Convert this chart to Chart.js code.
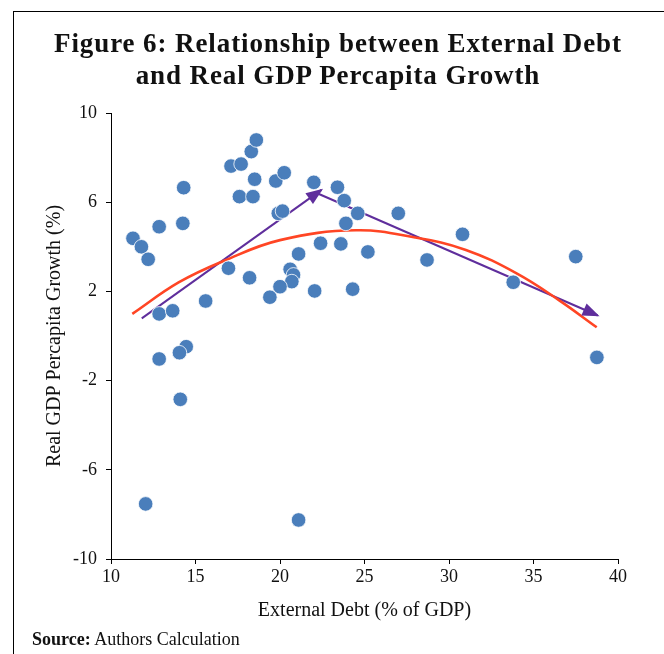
<!DOCTYPE html>
<html>
<head>
<meta charset="utf-8">
<script src="https://cdn.jsdelivr.net/npm/chart.js@4"></script>
<style>
  body { margin: 0; background: #fff; }
  #wrap { position: relative; width: 664px; height: 654px; overflow: hidden; }
  #frame { position: absolute; left: 13px; top: 11px; right: -5px; bottom: -5px;
           border-left: 1px solid #000; border-top: 1px solid #000; }
  #title { position: absolute; left: 12px; width: 652px; top: 27px; text-align: center;
           font: bold 27px "Liberation Serif", serif; line-height: 32px; color: #111;
           letter-spacing: 0.9px; }
  #source { position: absolute; left: 32px; top: 629px; font: 18px "Liberation Serif", serif;
            color: #111; }
  canvas { position: absolute; left: 0; top: 0; }
</style>
</head>
<body>
<div id="wrap">
  <div id="frame"></div>
  <canvas id="chart" width="664" height="654"></canvas>
  <div id="title">Figure 6: Relationship between External Debt<br>and Real GDP Percapita Growth</div>
  <div id="source"><b>Source:</b> Authors Calculation</div>
</div>
<script>
  // scatter: external debt (% of GDP) vs real GDP per capita growth (%)
  const debt = [11.3, 11.8, 12.2, 12.85, 14.3, 14.25, 17.1, 17.7, 18.3, 18.6,
    18.5, 17.6, 18.4, 19.75, 20.25, 19.9, 20.15, 22.0, 23.4, 23.8,
    23.9, 24.6, 22.4, 23.6, 21.1, 20.6, 20.8, 20.7, 20.0, 19.4,
    18.2, 16.95, 15.6, 22.05, 24.3, 25.2, 27.0, 28.7, 30.8, 33.8,
    37.5, 38.75, 12.85, 13.65, 14.45, 14.05, 12.85, 14.1, 12.05, 21.1];
  const growth = [4.38, 4.0, 3.44, 4.9, 6.65, 5.05, 7.62, 7.71, 8.27, 8.79,
    7.03, 6.25, 6.25, 6.95, 7.32, 5.5, 5.6, 6.89, 6.67, 6.07,
    5.05, 5.5, 4.16, 4.13, 3.68, 2.99, 2.74, 2.44, 2.21, 1.74,
    2.61, 3.04, 1.57, 2.02, 2.1, 3.77, 5.5, 3.41, 4.56, 2.41,
    3.56, -0.96, 0.99, 1.13, -0.48, -0.75, -1.03, -2.84, -7.53, -8.25];

  // fitted curve
  const fitX = [11.26, 14, 16.65, 20, 24.5, 28, 31, 34, 36.5, 38.74];
  const fitY = [0.99, 2.4, 3.36, 4.3, 4.74, 4.42, 3.86, 2.81, 1.61, 0.39];

  // the two arrows
  const arrowUpX = [11.82, 22.45];
  const arrowUpY = [0.79, 6.55];
  const arrowDownX = [22.2, 38.8];
  const arrowDownY = [6.4, 0.92];

  const xTicks = [10, 15, 20, 25, 30, 35, 40];
  const yTicks = [-10, -6, -2, 2, 6, 10];

  const pts = (xs, ys) => xs.map((x, i) => ({ x: x, y: ys[i] }));

  const arrowHeads = {
    id: "arrowHeads",
    afterDatasetsDraw(chart) {
      const ctx = chart.ctx;
      chart.data.datasets.forEach((ds, i) => {
        if (!ds.arrow) return;
        const el = chart.getDatasetMeta(i).data;
        const a = el[el.length - 2], b = el[el.length - 1];
        const ang = Math.atan2(b.y - a.y, b.x - a.x);
        const len = 15, half = 6.5;
        ctx.save();
        ctx.translate(b.x, b.y);
        ctx.rotate(ang);
        ctx.beginPath();
        ctx.moveTo(2, 0);
        ctx.lineTo(-len, -half);
        ctx.lineTo(-len, half);
        ctx.closePath();
        ctx.fillStyle = ds.borderColor;
        ctx.fill();
        ctx.restore();
      });
    }
  };

  const serif = "'Liberation Serif', serif";

  new Chart(document.getElementById("chart"), {
    type: "scatter",
    data: {
      datasets: [
        {
          data: pts(debt, growth),
          backgroundColor: "#4a7ebb",
          borderColor: "#ffffff",
          borderWidth: 0.8,
          pointRadius: 7.3,
          pointHoverRadius: 7.3
        },
        {
          type: "line",
          data: pts(fitX, fitY),
          borderColor: "#ff4524",
          borderWidth: 2.6,
          pointRadius: 0,
          tension: 0.4,
          fill: false
        },
        {
          type: "line",
          data: pts(arrowUpX, arrowUpY),
          borderColor: "#5f2e9c",
          borderWidth: 2,
          pointRadius: 0,
          arrow: true
        },
        {
          type: "line",
          data: pts(arrowDownX, arrowDownY),
          borderColor: "#5f2e9c",
          borderWidth: 2,
          pointRadius: 0,
          arrow: true
        }
      ]
    },
    plugins: [arrowHeads],
    options: {
      responsive: false,
      animation: false,
      layout: { padding: { top: 113, left: 43, right: 46, bottom: 20 } },
      plugins: {
        legend: { display: false },
        tooltip: { enabled: false }
      },
      scales: {
        x: {
          type: "linear",
          min: 10,
          max: 40,
          afterFit: s => { s.height = 75; },
          afterBuildTicks: s => { s.ticks = xTicks.map(v => ({ value: v })); },
          ticks: { color: "#111", padding: 2, font: { family: serif, size: 18 } },
          grid: { drawOnChartArea: false, color: "#000", tickLength: 5 },
          border: { color: "#000", width: 1 },
          title: {
            display: true,
            text: "External Debt (% of GDP)",
            color: "#111",
            padding: { top: 0, bottom: 11 },
            font: { family: serif, size: 20 }
          }
        },
        y: {
          type: "linear",
          min: -10,
          max: 10,
          afterFit: s => { s.width = 68; },
          afterBuildTicks: s => { s.ticks = yTicks.map(v => ({ value: v })); },
          ticks: { color: "#111", padding: 9, font: { family: serif, size: 18 } },
          grid: { drawOnChartArea: false, color: "#000", tickLength: 5 },
          border: { color: "#000", width: 1 },
          title: {
            display: true,
            text: "Real GDP Percapita Growth (%)",
            color: "#111",
            padding: { top: 0, bottom: 0 },
            font: { family: serif, size: 20 }
          }
        }
      }
    }
  });
</script>
</body>
</html>
